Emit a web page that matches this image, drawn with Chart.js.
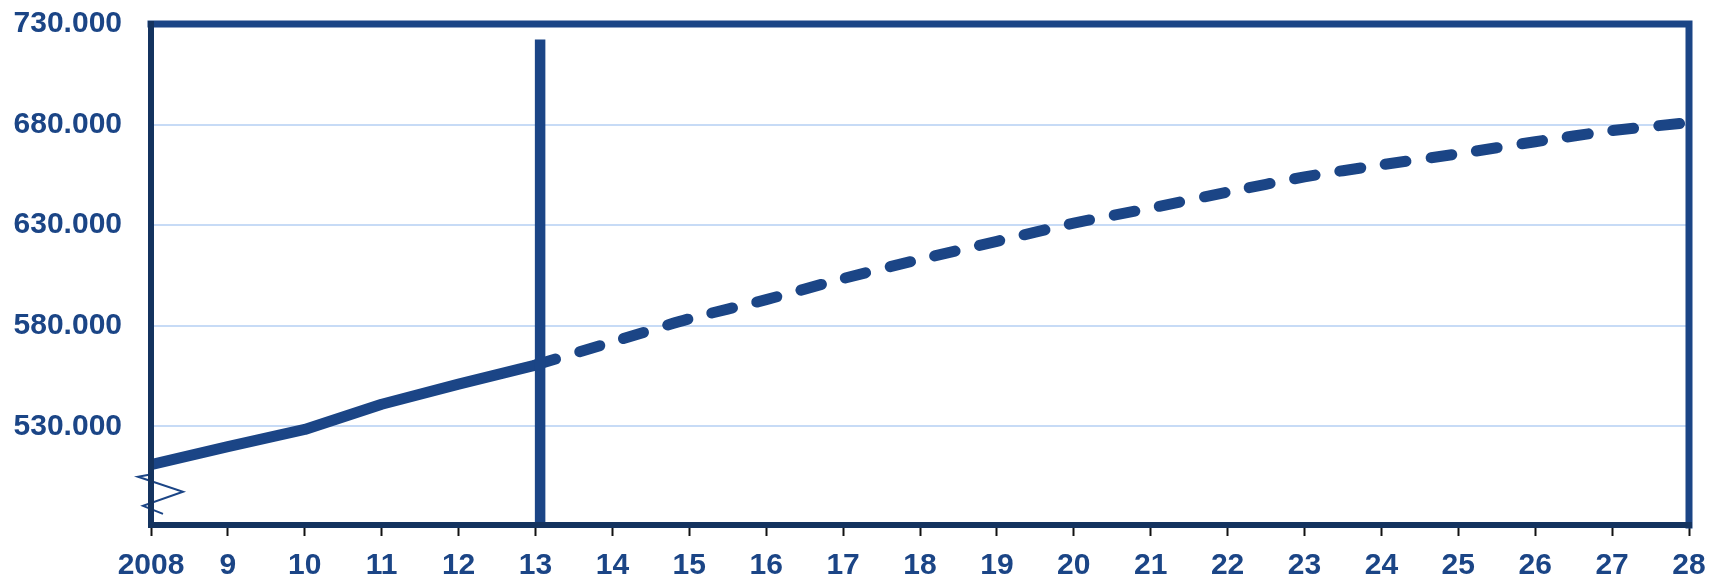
<!DOCTYPE html>
<html>
<head>
<meta charset="utf-8">
<script src="https://cdn.jsdelivr.net/npm/chart.js@4/dist/chart.umd.min.js"></script>
<style>
  html, body { margin: 0; padding: 0; background: #ffffff; }
  #wrap { width: 1724px; height: 579px; position: relative; }
</style>
</head>
<body>
<div id="wrap"><canvas id="c" width="1724" height="579"></canvas></div>
<script>
// ---- data ----
const actualYears = [2008, 2009, 2010, 2011, 2012, 2013];
const actualValues = [511000, 520000, 528500, 541000, 551000, 560500];
const forecastYears = [2013, 2014, 2015, 2016, 2017, 2018, 2019, 2020, 2021, 2022, 2023, 2024, 2025, 2026, 2027, 2028];
const forecastValues = [560500, 572000, 583500, 593000, 603500, 613000, 622000, 631000, 638500, 646500, 654000, 660000, 665500, 671500, 677000, 681000];
const xTickValues = [2008, 2009, 2010, 2011, 2012, 2013, 2014, 2015, 2016, 2017, 2018, 2019, 2020, 2021, 2022, 2023, 2024, 2025, 2026, 2027, 2028];
const xTickLabels = ['2008', '9', '10', '11', '12', '13', '14', '15', '16', '17', '18', '19', '20', '21', '22', '23', '24', '25', '26', '27', '28'];
const yTickValues = [530000, 580000, 630000, 680000, 730000];
const markerYear = [2013.06, 2013.06];
const markerValues = [481000, 722300];
const yMin = 481000, yMax = 730000;

const NAVY = '#1b4586';
const DARK = '#14335f';
const GRID = '#c7dbf6';
const FONT = { family: '"Liberation Sans", Arial, sans-serif', size: 30, weight: 'bold' };

function pts(xs, ys) { return xs.map((x, i) => ({ x: x, y: ys[i] })); }

const framePlugin = {
  id: 'frame',
  afterDatasetsDraw(chart) {
    const { ctx, chartArea: a, scales } = chart;
    ctx.save();
    // axis break zigzag near bottom-left
    const x0 = scales.x.getPixelForValue(2008);
    const yA = scales.y.getPixelForValue(505000);
    const yB = scales.y.getPixelForValue(497500);
    const yC = scales.y.getPixelForValue(490500);
    const yD = scales.y.getPixelForValue(486500);
    ctx.strokeStyle = NAVY;
    ctx.lineWidth = 2;
    ctx.beginPath();
    ctx.moveTo(x0 - 2, yA - 2);
    ctx.lineTo(x0 - 13, yA);
    ctx.lineTo(x0 + 32, yB);
    ctx.lineTo(x0 - 8, yC);
    ctx.lineTo(x0 + 12, yD);
    ctx.stroke();
    // frame
    ctx.lineCap = 'square';
    ctx.strokeStyle = NAVY;
    ctx.lineWidth = 7;
    ctx.beginPath();
    ctx.moveTo(a.left, a.top);
    ctx.lineTo(a.right, a.top);
    ctx.lineTo(a.right, a.bottom);
    ctx.stroke();
    ctx.strokeStyle = DARK;
    ctx.lineWidth = 6;
    ctx.beginPath();
    ctx.moveTo(a.left, a.top);
    ctx.lineTo(a.left, a.bottom);
    ctx.lineTo(a.right, a.bottom);
    ctx.stroke();
    ctx.restore();
  }
};

new Chart(document.getElementById('c'), {
  type: 'line',
  data: {
    datasets: [
      {
        label: 'marker',
        data: pts(markerYear, markerValues),
        borderColor: NAVY,
        borderWidth: 10.5,
        borderCapStyle: 'butt',
        pointRadius: 0,
        fill: false
      },
      {
        label: 'actual',
        data: pts(actualYears, actualValues),
        borderColor: NAVY,
        borderWidth: 11,
        borderCapStyle: 'round',
        borderJoinStyle: 'round',
        pointRadius: 0,
        tension: 0,
        fill: false
      },
      {
        label: 'forecast',
        data: pts(forecastYears, forecastValues),
        borderColor: NAVY,
        borderWidth: 11,
        borderDash: [21, 25],
        borderCapStyle: 'round',
        borderJoinStyle: 'round',
        pointRadius: 0,
        tension: 0.25,
        fill: false
      }
    ]
  },
  options: {
    responsive: false,
    animation: false,
    events: [],
    layout: { padding: { left: 0, right: 35, top: 24, bottom: 0 } },
    plugins: { legend: { display: false }, tooltip: { enabled: false }, title: { display: false } },
    scales: {
      x: {
        type: 'linear',
        min: 2008,
        max: 2028,
        afterBuildTicks(s) { s.ticks = xTickValues.map(v => ({ value: v })); },
        afterFit(s) { s.height = 54; s.paddingLeft = 0; s.paddingRight = 0; },
        ticks: {
          color: NAVY,
          font: FONT,
          padding: 12,
          maxRotation: 0,
          autoSkip: false,
          callback: (v) => xTickLabels[xTickValues.indexOf(v)]
        },
        grid: { drawOnChartArea: false, drawTicks: true, tickLength: 11, tickColor: '#111111', tickWidth: 2 },
        border: { display: false }
      },
      y: {
        type: 'linear',
        min: yMin,
        max: yMax,
        afterBuildTicks(s) { s.ticks = yTickValues.map(v => ({ value: v })); },
        afterFit(s) { s.width = 151; s.paddingTop = 0; s.paddingBottom = 0; },
        ticks: {
          color: NAVY,
          font: FONT,
          padding: 29,
          callback: (v) => (v / 1000).toFixed(0) + '.000'
        },
        grid: { color: GRID, lineWidth: 2, drawTicks: false },
        border: { display: false }
      }
    }
  },
  plugins: [framePlugin]
});
</script>
</body>
</html>
